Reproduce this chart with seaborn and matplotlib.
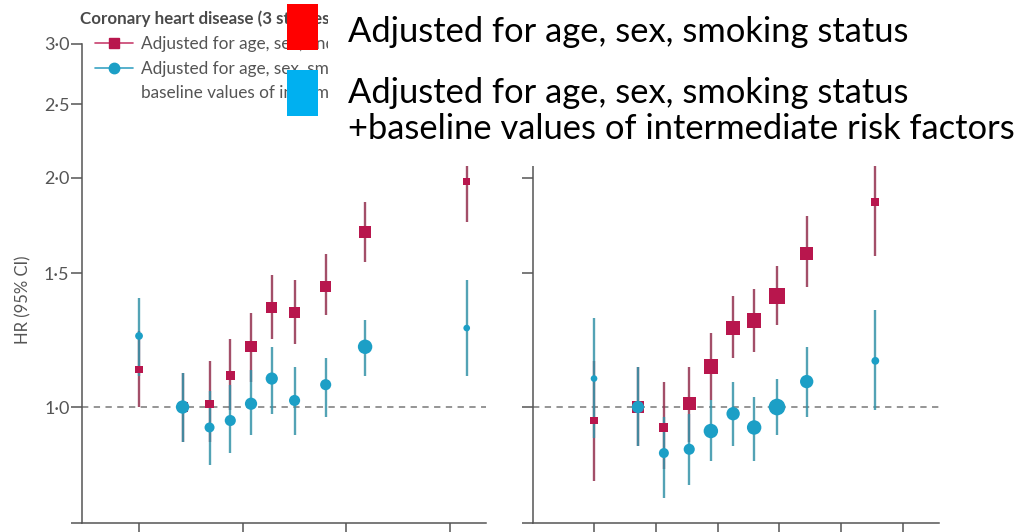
import numpy as np
import pandas as pd
import matplotlib
matplotlib.use("Agg")
import matplotlib.pyplot as plt
from matplotlib.lines import Line2D
from matplotlib.patches import Rectangle
from matplotlib.ticker import FixedLocator, NullLocator
import seaborn as sns

# ---- data: hazard ratios (95% CI) by category, two adjustment models ----
bmi_x = [20.0, 22.1, 23.4, 24.4, 25.4, 26.4, 27.5, 29.0, 30.9, 35.8]
bmi_hr_base = [1.12, 1.00, 1.01, 1.10, 1.20, 1.35, 1.33, 1.44, 1.70, 1.98]
bmi_lo_base = [1.00, 0.90, 0.90, 0.99, 1.08, 1.23, 1.21, 1.32, 1.55, 1.75]
bmi_hi_base = [1.26, 1.11, 1.15, 1.23, 1.33, 1.49, 1.47, 1.59, 1.86, 2.25]
bmi_hr_full = [1.24, 1.00, 0.94, 0.96, 1.01, 1.09, 1.02, 1.07, 1.20, 1.27]
bmi_lo_full = [1.10, 0.90, 0.84, 0.87, 0.92, 0.98, 0.92, 0.97, 1.10, 1.10]
bmi_hi_full = [1.39, 1.11, 1.05, 1.07, 1.12, 1.20, 1.13, 1.16, 1.30, 1.47]
bmi_w_base = [7, 9, 7.5, 8, 10, 10, 10, 10, 11, 6]
bmi_w_full = [7, 12, 9, 10, 11, 11, 10, 10, 13, 6]

waist_x = [70.0, 77.1, 81.3, 85.4, 88.9, 92.5, 95.9, 99.6, 104.4, 115.5]
waist_hr_base = [0.96, 1.00, 0.94, 1.01, 1.13, 1.27, 1.30, 1.40, 1.59, 1.86]
waist_lo_base = [0.80, 0.89, 0.83, 0.90, 1.02, 1.16, 1.18, 1.28, 1.44, 1.58]
waist_hi_base = [1.15, 1.13, 1.08, 1.13, 1.25, 1.40, 1.43, 1.53, 1.78, 2.15]
waist_hr_full = [1.09, 1.00, 0.87, 0.88, 0.93, 0.98, 0.94, 1.00, 1.08, 1.15]
waist_lo_full = [0.91, 0.89, 0.76, 0.79, 0.85, 0.89, 0.85, 0.92, 0.97, 0.99]
waist_hi_full = [1.31, 1.13, 0.97, 0.98, 1.02, 1.08, 1.03, 1.09, 1.20, 1.34]
waist_w_base = [7, 11, 8, 12, 13, 12, 13, 14, 12, 7]
waist_w_full = [6, 11, 9, 10, 13, 12, 13, 15, 12, 7]

bmi_ticks = [20, 25, 30, 35]
waist_ticks = [70, 80, 90, 100, 110, 120]
hr_ticks = [1.0, 1.5, 2.0, 2.5, 3.0]
hr_tick_labels = ["1·0", "1·5", "2·0", "2·5", "3·0"]

title = "Coronary heart disease (3 studies)"
label_base = "Adjusted for age, sex, and smoking status"
label_full = ["Adjusted for age, sex, smoking status, and",
              "baseline values of intermediate risk factors"]
note_base = "Adjusted for age, sex, smoking status"
note_full = ["Adjusted for age, sex, smoking status",
             "+baseline values of intermediate risk factors"]


def frame(x, hr, lo, hi, w, model):
    return pd.DataFrame({"x": x, "hr": hr, "lo": lo, "hi": hi, "w": w, "model": model})


bmi = pd.concat([frame(bmi_x, bmi_hr_base, bmi_lo_base, bmi_hi_base, bmi_w_base, "base"),
                 frame(bmi_x, bmi_hr_full, bmi_lo_full, bmi_hi_full, bmi_w_full, "full")])
waist = pd.concat([frame(waist_x, waist_hr_base, waist_lo_base, waist_hi_base, waist_w_base, "base"),
                   frame(waist_x, waist_hr_full, waist_lo_full, waist_hi_full, waist_w_full, "full")])

# ---- style ----
sns.set_theme(style="ticks")
plt.rcParams["font.family"] = ["Lato", "DejaVu Sans"]

RED = "#b8164d"
BLUE = "#1c9fc6"
RED_CI = "#93304f"
BLUE_CI = "#3593a8"
AXIS = "#555555"
TXT = "#555555"

W, H = 1019, 532
fig = plt.figure(figsize=(W / 100, H / 100), dpi=100)
fig.patch.set_facecolor("white")

ax_l = fig.add_axes([82 / W, 9 / H, 404 / W, 479 / H])
ax_r = fig.add_axes([533 / W, 9 / H, 406 / W, 479 / H])

styles = {"base": dict(marker="s", color=RED, ci=RED_CI),
          "full": dict(marker="o", color=BLUE, ci=BLUE_CI)}


def draw_panel(ax, df, xlim, xticks, show_labels):
    ax.set_yscale("log")
    ax.set_ylim(0.704, 3.0)
    ax.set_xlim(*xlim)
    ax.axhline(1.0, color="#8c8c8c", lw=1.3, ls=(0, (3.5, 3)), zorder=1)
    for model in ["base", "full"]:
        sub = df[df["model"] == model]
        ax.vlines(sub["x"], sub["lo"], sub["hi"], color=styles[model]["ci"],
                  lw=1.7, alpha=0.85, zorder=2)
    for model in ["base", "full"]:
        sub = df[df["model"] == model]
        sns.scatterplot(data=sub, x="x", y="hr", ax=ax, marker=styles[model]["marker"],
                        color=styles[model]["color"], s=(sub["w"] * 0.8) ** 2,
                        edgecolor="none", linewidth=0, legend=False, zorder=3)
    ax.set_xlabel("")
    ax.set_ylabel("")
    ax.yaxis.set_major_locator(FixedLocator([0.704] + hr_ticks))
    ax.yaxis.set_minor_locator(NullLocator())
    if show_labels:
        ax.set_yticklabels([""] + hr_tick_labels)
    else:
        ax.set_yticklabels([""] * (len(hr_ticks) + 1))
    ax.set_xticks(xticks)
    ax.set_xticklabels([""] * len(xticks))
    ax.tick_params(axis="both", length=8, width=1.1, color=AXIS, pad=1,
                   labelsize=13, labelcolor=TXT)
    for side in ["top", "right"]:
        ax.spines[side].set_visible(False)
    for side in ["left", "bottom"]:
        ax.spines[side].set_color(AXIS)
        ax.spines[side].set_linewidth(1.1)
    ax.set_facecolor("white")


draw_panel(ax_l, bmi, (17.25, 36.73), bmi_ticks, True)
draw_panel(ax_r, waist, (60.13, 125.8), waist_ticks, False)

ax_l.set_ylabel("HR (95% CI)", fontsize=12, color=TXT)
ax_l.yaxis.set_label_coords(-0.125, 0.466)

fig.text(80 / W, 1 - 24 / H, title, fontsize=12.2, fontweight="bold", color="#4a4a4a",
         va="baseline", ha="left")

handles = [Line2D([], [], color="#c8416e", lw=1.2, marker="s", markersize=6.5,
                  markerfacecolor=RED, markeredgecolor=RED),
           Line2D([], [], color="#3aa3c4", lw=1.2, marker="o", markersize=7.5,
                  markerfacecolor=BLUE, markeredgecolor=BLUE),
           Line2D([], [], color="none")]
leg = ax_l.legend(handles, [label_base] + label_full, loc="upper left",
                  bbox_to_anchor=(95 / W, 1 - 36 / H), bbox_transform=fig.transFigure,
                  frameon=False, fontsize=12.4, handlelength=2.2, handletextpad=0.45,
                  labelspacing=0.5, borderaxespad=0, borderpad=0)
for t in leg.get_texts():
    t.set_color(TXT)

# ---- annotation key laid over the top of the figure ----
fig.add_artist(Rectangle((328 / W, 1 - 166 / H), (W - 328) / W, 166 / H,
                         transform=fig.transFigure, facecolor="white", edgecolor="none",
                         zorder=10))
fig.add_artist(Rectangle((287 / W, 1 - 50 / H), 31 / W, 46 / H, transform=fig.transFigure,
                         facecolor="#ff0000", edgecolor="none", zorder=11))
fig.add_artist(Rectangle((287 / W, 1 - 116 / H), 31 / W, 46 / H, transform=fig.transFigure,
                         facecolor="#00b0f0", edgecolor="none", zorder=11))
for txt, base in [(note_base, 42), (note_full[0], 103), (note_full[1], 139)]:
    fig.text(348 / W, 1 - base / H, txt, fontsize=24.8, color="black",
             va="baseline", ha="left", zorder=12)

fig.savefig("out.png", dpi=100, facecolor="white")
